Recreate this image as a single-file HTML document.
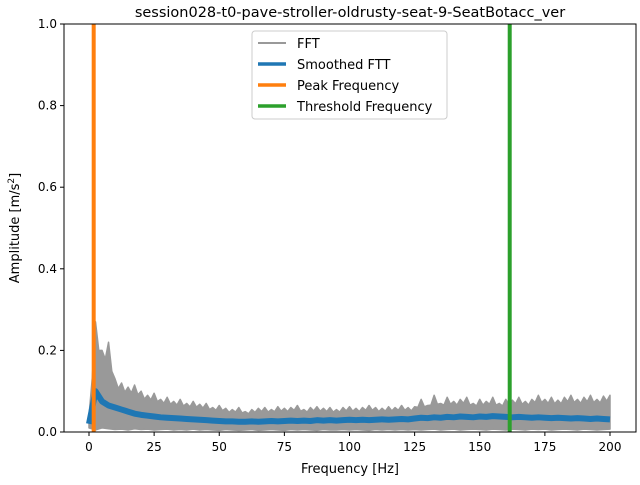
<!DOCTYPE html>
<html><head><meta charset="utf-8"><style>
body{margin:0;background:#fff;font-family:"Liberation Sans","DejaVu Sans",sans-serif;}
text{font-family:"DejaVu Sans","Liberation Sans",sans-serif;}
</style></head><body>
<svg id="chart" width="640" height="480" viewBox="0 0 640 480" xmlns="http://www.w3.org/2000/svg">
<rect width="640" height="480" fill="#fff"/>
<text x="350" y="17" font-size="14.5" text-anchor="middle" fill="#000">session028-t0-pave-stroller-oldrusty-seat-9-SeatBotacc_ver</text>
<g id="marks"></g>
<rect x="64" y="24" width="572" height="408" fill="none" stroke="#000" stroke-width="1"/>
<g id="axes"></g>
<text x="350" y="473" font-size="13" text-anchor="middle">Frequency [Hz]</text>
<text transform="translate(19,228) rotate(-90)" font-size="13" text-anchor="middle">Amplitude [m/s<tspan dy="-5" font-size="9">2</tspan><tspan dy="5">]</tspan></text>
<g>
<rect x="252" y="31" width="195" height="88" rx="3" fill="#fff" fill-opacity="0.8" stroke="#ccc"/>
<line x1="258" y1="43" x2="286" y2="43" stroke="#999" stroke-width="2"/><text x="297" y="48" font-size="13">FFT</text>
<line x1="258" y1="64" x2="286" y2="64" stroke="#1f77b4" stroke-width="3.5"/><text x="297" y="69" font-size="13">Smoothed FTT</text>
<line x1="258" y1="85" x2="286" y2="85" stroke="#ff7f0e" stroke-width="3.5"/><text x="297" y="90" font-size="13">Peak Frequency</text>
<line x1="258" y1="106" x2="286" y2="106" stroke="#2ca02c" stroke-width="3.5"/><text x="297" y="111" font-size="13">Threshold Frequency</text>
</g>
</svg>
<script>
const freqStep = 2.5;
const fftUpper = [0.04,0.27,0.2,0.22,0.13,0.12,0.11,0.115,0.1,0.09,0.095,0.08,0.085,0.075,0.08,0.07,0.075,0.068,0.07,0.06,0.065,0.058,0.055,0.06,0.05,0.055,0.058,0.06,0.055,0.062,0.058,0.06,0.065,0.055,0.06,0.062,0.058,0.06,0.055,0.06,0.062,0.058,0.06,0.065,0.06,0.058,0.062,0.06,0.065,0.06,0.062,0.08,0.065,0.09,0.07,0.085,0.075,0.08,0.085,0.07,0.08,0.075,0.085,0.07,0.08,0.078,0.085,0.075,0.08,0.09,0.08,0.085,0.078,0.085,0.09,0.08,0.085,0.09,0.08,0.088,0.09];
const fftLower = [0.01,0.005,0.01,0.008,0.006,0.007,0.005,0.008,0.006,0.007,0.005,0.006,0.007,0.005,0.006,0.005,0.007,0.005,0.006,0.005,0.004,0.006,0.005,0.004,0.005,0.006,0.004,0.005,0.006,0.005,0.004,0.006,0.005,0.006,0.005,0.004,0.006,0.005,0.005,0.006,0.005,0.006,0.005,0.004,0.006,0.005,0.006,0.005,0.006,0.005,0.006,0.005,0.006,0.007,0.005,0.006,0.007,0.005,0.006,0.007,0.006,0.005,0.007,0.006,0.005,0.007,0.006,0.005,0.007,0.006,0.007,0.005,0.006,0.007,0.006,0.005,0.007,0.006,0.005,0.006,0.007];
const smoothed = [0.02,0.1,0.075,0.065,0.06,0.055,0.05,0.045,0.042,0.04,0.038,0.036,0.035,0.034,0.033,0.032,0.031,0.03,0.029,0.028,0.027,0.026,0.026,0.025,0.025,0.026,0.025,0.026,0.027,0.026,0.027,0.028,0.027,0.028,0.027,0.029,0.028,0.029,0.028,0.029,0.03,0.029,0.03,0.029,0.03,0.031,0.03,0.031,0.032,0.031,0.033,0.035,0.034,0.036,0.035,0.037,0.036,0.038,0.037,0.036,0.038,0.037,0.039,0.038,0.037,0.036,0.037,0.036,0.035,0.036,0.035,0.034,0.035,0.034,0.033,0.034,0.033,0.032,0.033,0.032,0.031];
const peakFreq = 1.8;
const thresholdFreq = 161.5;
const xTicks = [0,25,50,75,100,125,150,175,200];
const yTicks = [0,0.2,0.4,0.6,0.8,1.0];

const NS="http://www.w3.org/2000/svg";
const X = f => 89 + (f-0)*(610-89)/200;
const Y = v => 432 - v*408;
const marks=document.getElementById('marks'), axes=document.getElementById('axes');
function mk(tag, attrs, parent){const e=document.createElementNS(NS,tag);for(const k in attrs)e.setAttribute(k,attrs[k]);parent.appendChild(e);return e;}
const clip=mk('clipPath',{id:'clip'},marks);mk('rect',{x:64,y:24,width:572,height:408},clip);
const g=mk('g',{'clip-path':'url(#clip)'},marks);
// FFT dense band: upper envelope then lower envelope reversed
let pts=[];
for(let i=0;i<fftUpper.length;i++){
  const f=i*freqStep;
  pts.push(X(f)+','+Y(fftUpper[i]));
  if(i<fftUpper.length-1) pts.push(X(f+freqStep/2)+','+Y((fftUpper[i]+fftUpper[i+1])/2*0.85));
}
for(let i=fftLower.length-1;i>=0;i--){
  pts.push(X(i*freqStep)+','+Y(fftLower[i]));
}
const fft=mk('polygon',{points:pts.join(' '),fill:'#999',stroke:'#999',"stroke-width":1.5,"stroke-linejoin":'round'},g);


const sm=mk('polyline',{points:smoothed.map((v,i)=>X(i*freqStep)+','+Y(v)).join(' '),fill:'none',stroke:'#1f77b4',"stroke-width":6,"stroke-linejoin":'round'},g);


const pk=mk('line',{x1:X(peakFreq),x2:X(peakFreq),y1:24,y2:432,stroke:'#ff7f0e',"stroke-width":4},g);


const th=mk('line',{x1:X(thresholdFreq),x2:X(thresholdFreq),y1:24,y2:432,stroke:'#2ca02c',"stroke-width":4},g);


xTicks.forEach(t=>{
  const l=mk('line',{x1:X(t),x2:X(t),y1:432,y2:436,stroke:'#000'},axes);
  
  
  const tx=mk('text',{x:X(t),y:451,"font-size":12,"text-anchor":'middle'},axes);tx.textContent=t;
  
  
});
yTicks.forEach(t=>{
  const l=mk('line',{x1:60,x2:64,y1:Y(t),y2:Y(t),stroke:'#000'},axes);
  
  
  const tx=mk('text',{x:57,y:Y(t)+4,"font-size":12,"text-anchor":'end'},axes);tx.textContent=t.toFixed(1);
  
  
});
</script>
</body></html>
